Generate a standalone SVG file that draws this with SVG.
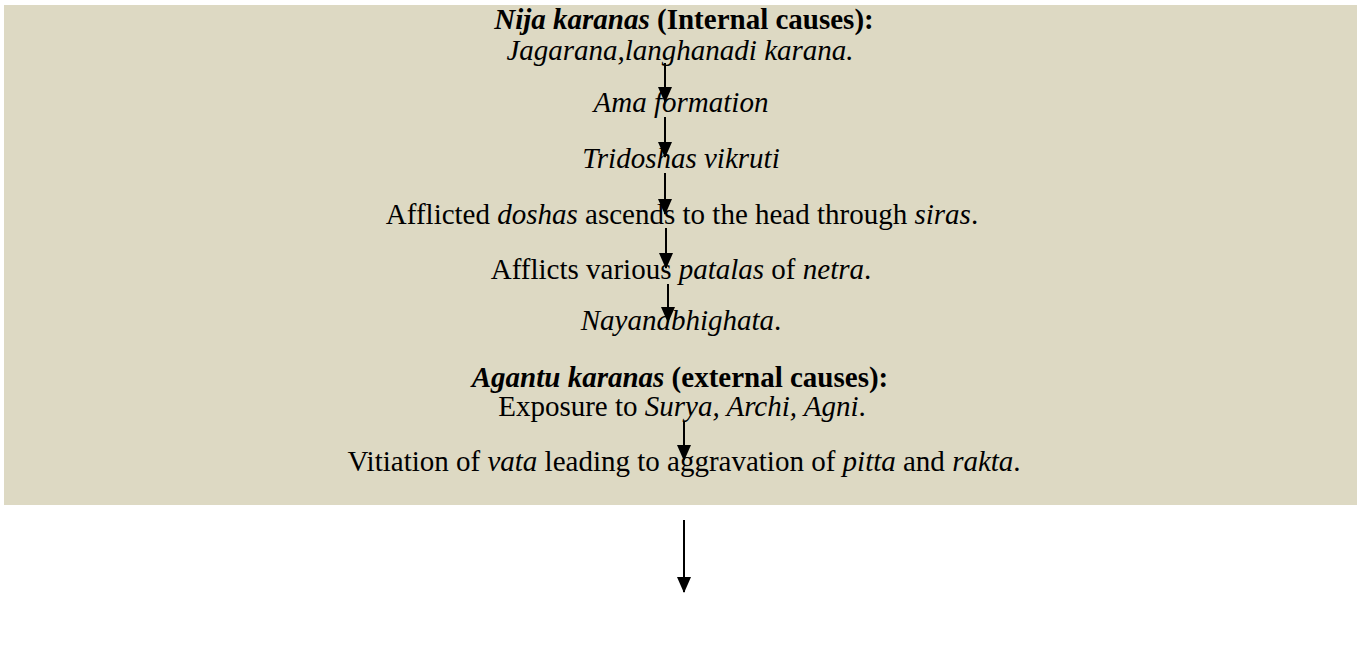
<svg xmlns="http://www.w3.org/2000/svg" width="1357" height="647" viewBox="0 0 1357 647">
<style>
text{font-family:"Liberation Serif","Times New Roman",serif;font-size:29px;fill:#000;text-anchor:middle}
.i{font-style:italic}
.b{font-weight:bold}
.c line{stroke:#000;stroke-width:2}
</style>
<defs>
<marker id="a" markerUnits="userSpaceOnUse" markerWidth="16" markerHeight="14" refX="15" refY="7" orient="auto" viewBox="0 0 16 14">
<path d="M0,0 L16,7 L0,14 Z" fill="#000"/>
</marker>
</defs>
<rect x="4" y="5" width="1353" height="500" fill="#DDD9C3"/>
<g id="n1"><text x="684" y="29" class="b"><tspan class="i">Nija karanas</tspan> (Internal causes):</text></g>
<g id="n2"><text x="680" y="60" class="i">Jagarana,langhanadi karana.</text></g>
<g id="n3"><text x="681" y="112" class="i">Ama formation</text></g>
<g id="n4"><text x="681" y="168" class="i">Tridoshas vikruti</text></g>
<g id="n5"><text x="682" y="224">Afflicted <tspan class="i">doshas</tspan> ascends to the head through <tspan class="i">siras</tspan>.</text></g>
<g id="n6"><text x="681" y="279">Afflicts various <tspan class="i">patalas</tspan> of <tspan class="i">netra</tspan>.</text></g>
<g id="n7"><text x="681" y="330"><tspan class="i">Nayandbhighata</tspan>.</text></g>
<g id="n8"><text x="680" y="387" class="b"><tspan class="i">Agantu karanas</tspan> (external causes):</text></g>
<g id="n9"><text x="682" y="416">Exposure to <tspan class="i">Surya, Archi, Agni</tspan>.</text></g>
<g id="n10"><text x="684" y="471">Vitiation of <tspan class="i">vata</tspan> leading to aggravation of <tspan class="i">pitta</tspan> and <tspan class="i">rakta</tspan>.</text></g>
<g id="connectors" class="c">
<line x1="665" y1="63" x2="665" y2="102" marker-end="url(#a)"/>
<line x1="665" y1="117" x2="665" y2="157" marker-end="url(#a)"/>
<line x1="665" y1="173" x2="665" y2="214" marker-end="url(#a)"/>
<line x1="666" y1="228" x2="666" y2="268" marker-end="url(#a)"/>
<line x1="668" y1="284" x2="668" y2="322" marker-end="url(#a)"/>
<line x1="684" y1="421" x2="684" y2="460" marker-end="url(#a)"/>
<line x1="684" y1="520" x2="684" y2="592" marker-end="url(#a)"/>
</g>
</svg>
